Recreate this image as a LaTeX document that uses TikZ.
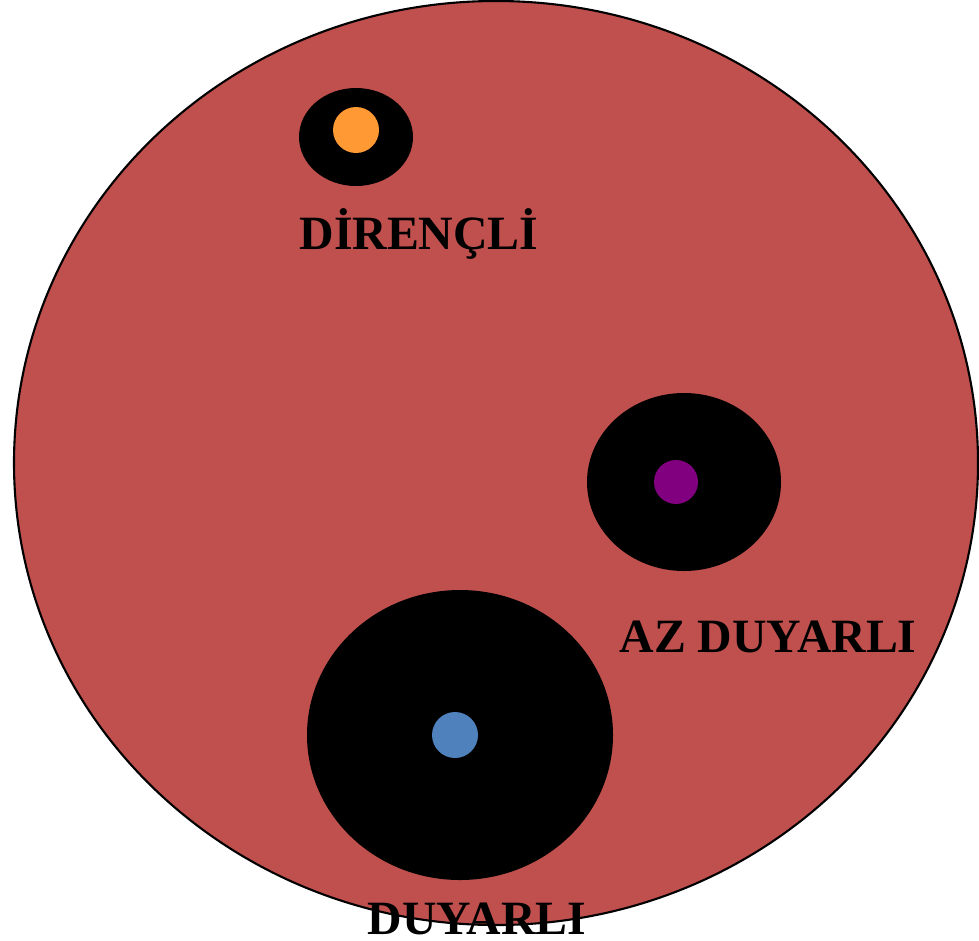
\documentclass[tikz,border=0pt]{standalone}
\usepackage{fontspec}
\setmainfont{Liberation Serif}
\usetikzlibrary{shapes,positioning}

\definecolor{cellred}{HTML}{C0504D}
\definecolor{dotorange}{HTML}{FF9933}
\definecolor{dotpurple}{HTML}{800080}
\definecolor{dotblue}{HTML}{4F81BD}

\tikzset{
    colony/.style={fill=black, draw=none},
    dot/.style={draw=none},
    lbl/.style={font=\fontsize{27.2}{32}\selectfont\bfseries, anchor=base, inner sep=0pt}
}

\begin{document}
\begin{tikzpicture}[x=0.02cm,y=-0.02cm]
    \def\rdot{23}
    \useasboundingbox (0,0) rectangle (979,940);
    \clip (0,0) rectangle (979,940);

    % plate
    \draw[fill=cellred, line width=1.2pt] (496,463) ellipse (482 and 462);

    % colonies
    \fill[colony] (356,137) ellipse (57 and 49);
    \fill[dotorange] (356,130) circle (\rdot);

    \fill[colony] (684,482) ellipse (97 and 89);
    \fill[dotpurple] (676,482) circle (22);

    \fill[colony] (460,735) ellipse (153 and 145);
    \fill[dotblue] (455,735) circle (\rdot);

    % labels
    \node[lbl] (direncli) at (419,249) {DİRENÇLİ};
    \node[lbl] (azduyarli) at (768,652) {AZ DUYARLI};
    \node[lbl] (duyarli) at (477,934) {DUYARLI};
\end{tikzpicture}
\end{document}
